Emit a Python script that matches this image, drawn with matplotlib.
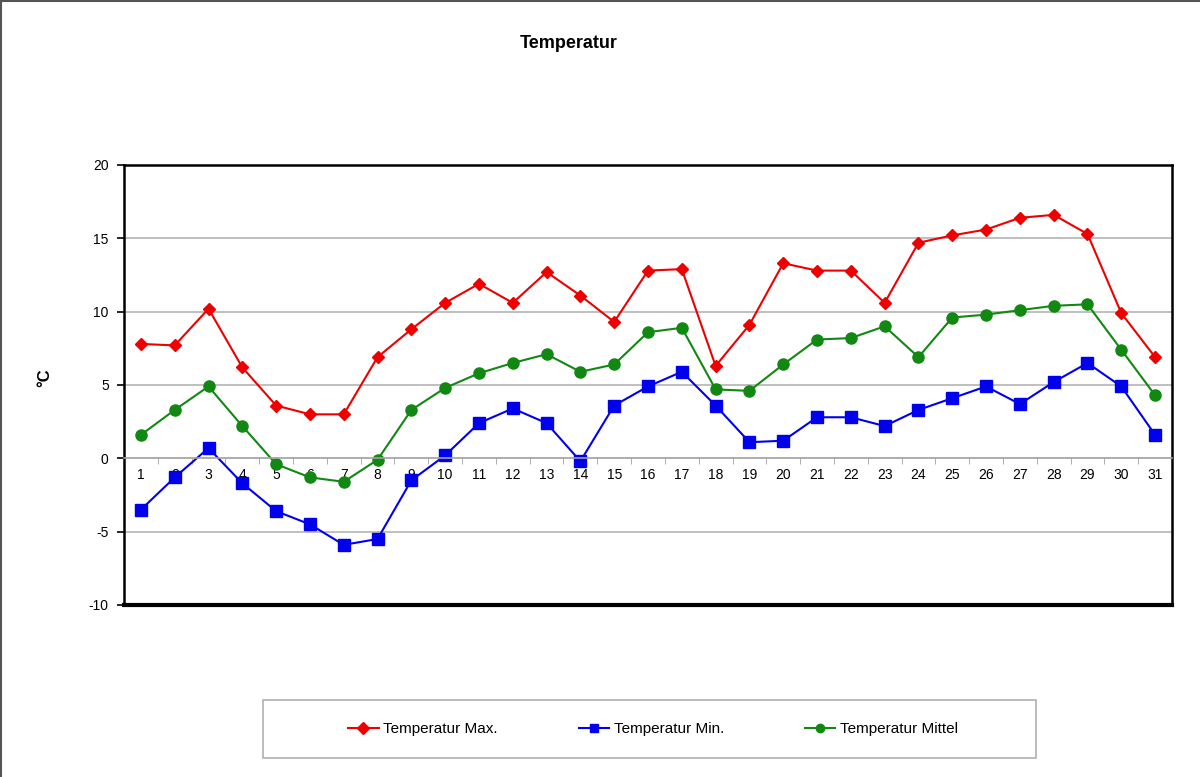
import numpy as np
import matplotlib
matplotlib.use('Agg')
import matplotlib.pyplot as plt
from matplotlib.lines import Line2D
from matplotlib.patches import Rectangle

plt.rcParams['font.family'] = ['Liberation Sans', 'DejaVu Sans']

# Data
days = list(range(1, 32))
t_max = [7.8, 7.7, 10.2, 6.2, 3.6, 3.0, 3.0, 6.9, 8.8, 10.6, 11.9, 10.6, 12.7, 11.1, 9.3, 12.8,
         12.9, 6.3, 9.1, 13.3, 12.8, 12.8, 10.6, 14.7, 15.2, 15.6, 16.4, 16.6, 15.3, 9.9, 6.9]
t_min = [-3.5, -1.3, 0.7, -1.7, -3.6, -4.5, -5.9, -5.5, -1.5, 0.2, 2.4, 3.4, 2.4, -0.2, 3.6, 4.9,
         5.9, 3.6, 1.1, 1.2, 2.8, 2.8, 2.2, 3.3, 4.1, 4.9, 3.7, 5.2, 6.5, 4.9, 1.6]
t_mean = [1.6, 3.3, 4.9, 2.2, -0.4, -1.3, -1.6, -0.1, 3.3, 4.8, 5.8, 6.5, 7.1, 5.9, 6.4, 8.6,
          8.9, 4.7, 4.6, 6.4, 8.1, 8.2, 9.0, 6.9, 9.6, 9.8, 10.1, 10.4, 10.5, 7.4, 4.3]
y_ticks = [-10, -5, 0, 5, 10, 15, 20]

fig = plt.figure(figsize=(12, 7.77), dpi=100)
ax = fig.add_axes([124/1200, 1 - 605/777, 1048/1200, 440/777])

ax.plot(days, t_max, color='#ee0000', marker='D', markersize=6, lw=1.5, label='Temperatur Max.')
ax.plot(days, t_min, color='#0000ee', marker='s', markersize=8, lw=1.5, label='Temperatur Min.')
ax.plot(days, t_mean, color='#118811', marker='o', markersize=8, lw=1.5, label='Temperatur Mittel')

ax.set_xlim(0.5, 31.5)
ax.set_ylim(-10, 20)
ax.set_yticks(y_ticks)
ax.set_yticklabels([str(v) for v in y_ticks], fontsize=10)
for v in y_ticks:
    if v not in (-10, 0, 20):
        ax.axhline(v, color='#b4b4b4', lw=1.2, zorder=0)

# category axis crosses at zero
ax.spines['bottom'].set_position(('data', 0))
ax.spines['bottom'].set_color('#a0a0a0')
ax.spines['bottom'].set_linewidth(1.2)
ax.set_xticks(days)
ax.set_xticklabels([str(d) for d in days], fontsize=10)
ax.set_xticks(np.arange(0.5, 32, 1), minor=True)
ax.tick_params(axis='x', which='major', length=0, pad=7)
ax.tick_params(axis='x', which='minor', length=4, color='#a0a0a0')
ax.tick_params(axis='y', length=5, width=1.2, pad=6)
for s in ['left', 'top', 'right']:
    ax.spines[s].set_linewidth(1.8)
    ax.spines[s].set_color('black')
ax.axhline(-10, color='black', lw=3, clip_on=False, zorder=5)

fig.text(569/1200, 1 - 43/777, 'Temperatur', fontsize=13, fontweight='bold', ha='center', va='center')
fig.text(45/1200, 1 - 378/777, '°C', fontsize=12, fontweight='bold', rotation=90, ha='center', va='center')

# legend box
fig.add_artist(Rectangle((263/1200, 1 - 758/777), 773/1200, 58/777, transform=fig.transFigure,
                         facecolor='white', edgecolor='#b0b0b0', lw=1.2))
leg = fig.legend(loc='center', ncol=3, bbox_to_anchor=(653/1200, 1 - 729/777),
                 fontsize=11, frameon=False, handlelength=2.0, handletextpad=0.3,
                 columnspacing=5.3, borderaxespad=0)
for h in leg.legend_handles:
    h.set_markersize(6)

# page border on top and left
fig.add_artist(Line2D([0, 1], [0.999, 0.999], color='#555555', lw=1.5, transform=fig.transFigure))
fig.add_artist(Line2D([0.0005, 0.0005], [0, 1], color='#555555', lw=1.5, transform=fig.transFigure))

fig.savefig('out.png', dpi=100)
